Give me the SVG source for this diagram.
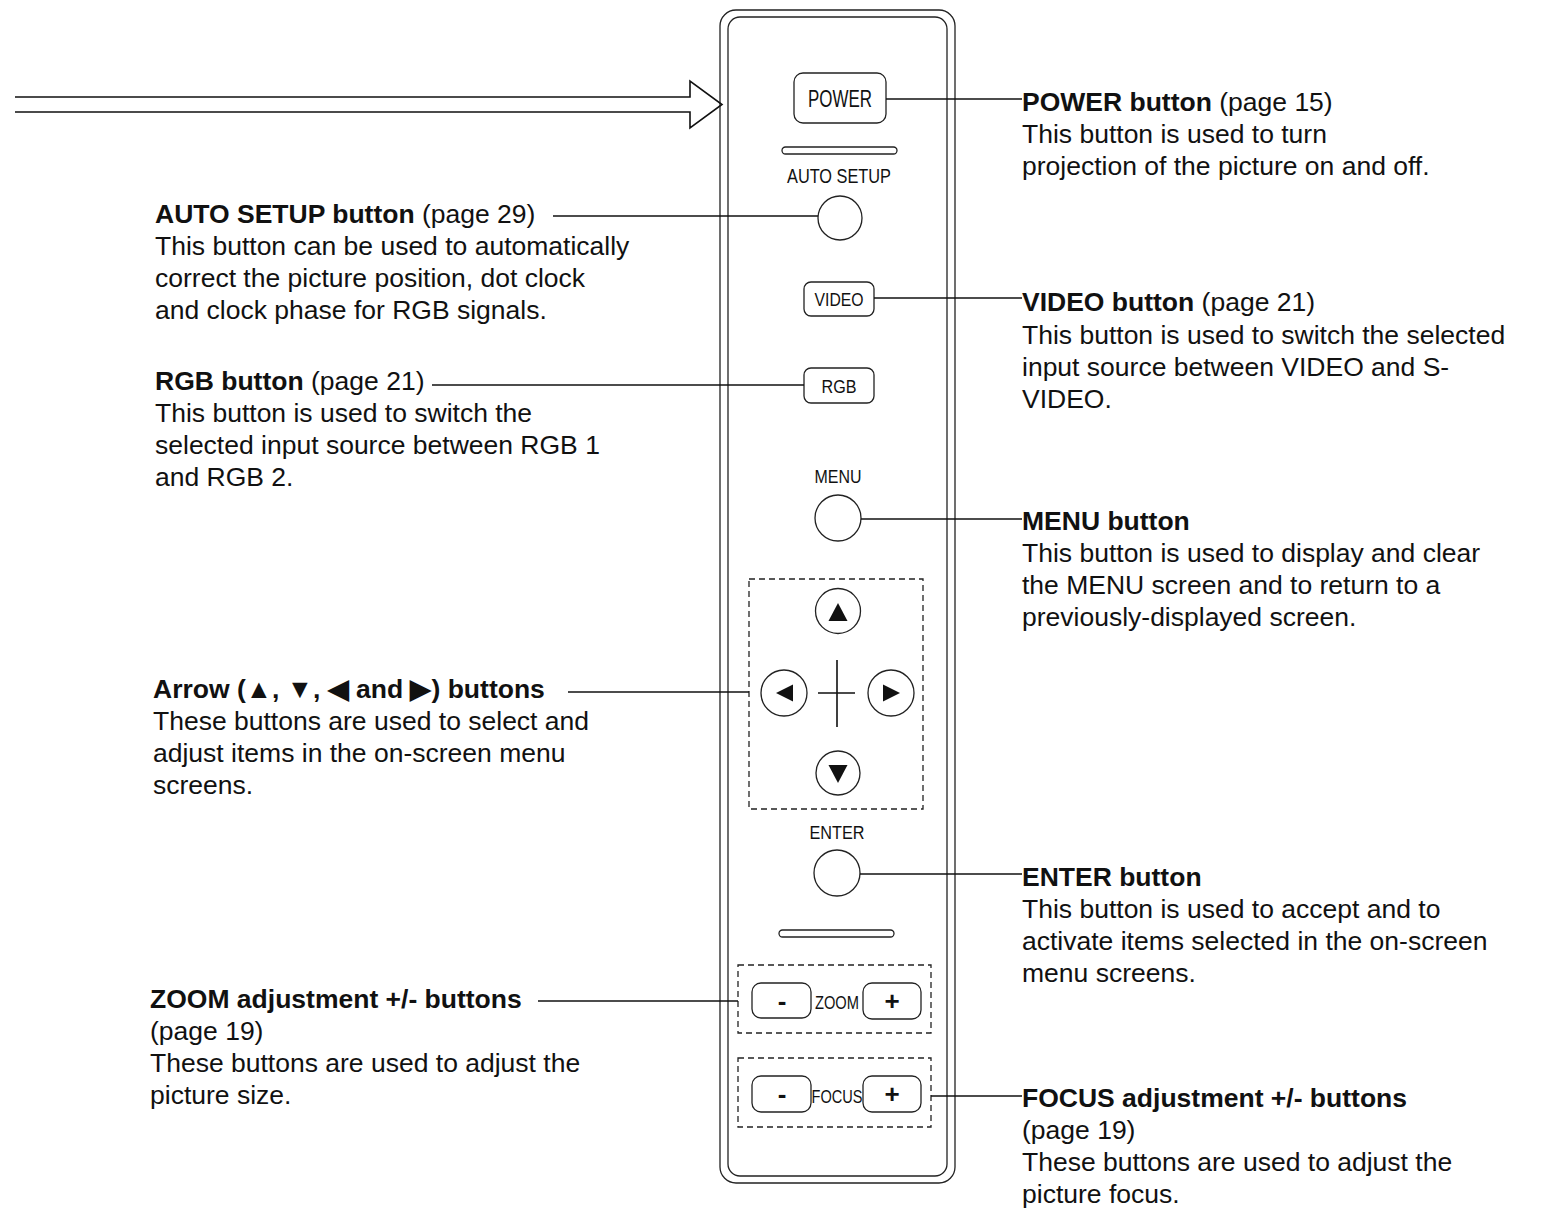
<svg xmlns="http://www.w3.org/2000/svg" width="1552" height="1209" viewBox="0 0 1552 1209">
<style>
.ln{stroke:#111;stroke-width:1.6;fill:none}
.bt{stroke:#222;stroke-width:1.3;fill:#fff}
.ds{stroke:#222;stroke-width:1.3;fill:none;stroke-dasharray:6 4}
.t{font-family:"Liberation Sans",Arial,sans-serif;font-size:26.5px;fill:#111}
.b{font-weight:bold}
.p{font-family:"Liberation Sans",Arial,sans-serif;fill:#111;text-anchor:middle}
.tri{fill:#111}
</style>
<rect width="1552" height="1209" fill="#fff"/>
<g id="panel">
<rect x="720" y="10" width="235" height="1173" rx="16" class="bt" stroke-width="1.6"/>
<rect x="728" y="17" width="219" height="1159" rx="12" class="bt"/>
</g>
<g id="bigarrow">
<path d="M15,97 H690 V81 L722,104.5 L690,128 V112 H15" class="ln" stroke-width="2"/>
</g>
<g id="power">
<rect x="794" y="73" width="92" height="50" rx="9" class="bt"/>
<text x="840" y="107" class="p" font-size="23" textLength="64" lengthAdjust="spacingAndGlyphs">POWER</text>
</g>
<g id="slot1"><rect x="782" y="147" width="115" height="7" rx="3.5" class="bt"/></g>
<g id="autosetup">
<text x="839" y="183" class="p" font-size="20" textLength="104" lengthAdjust="spacingAndGlyphs">AUTO SETUP</text>
<circle cx="840" cy="218" r="22" class="bt"/>
</g>
<g id="video">
<rect x="804" y="282" width="70" height="34" rx="7" class="bt"/>
<text x="839" y="306" class="p" font-size="19" textLength="49" lengthAdjust="spacingAndGlyphs">VIDEO</text>
</g>
<g id="rgb">
<rect x="804" y="368" width="70" height="35" rx="7" class="bt"/>
<text x="839" y="393" class="p" font-size="19" textLength="35" lengthAdjust="spacingAndGlyphs">RGB</text>
</g>
<g id="menu">
<text x="838" y="483" class="p" font-size="19" textLength="47" lengthAdjust="spacingAndGlyphs">MENU</text>
<circle cx="838" cy="518" r="23" class="bt"/>
</g>
<g id="arrows">
<rect x="749" y="579" width="174" height="230" class="ds"/>
<circle cx="838" cy="611" r="22.5" class="bt"/>
<path d="M838,603 L847.5,621 L828.5,621 Z" class="tri"/>
<circle cx="784" cy="693" r="23" class="bt"/>
<path d="M776,693 L793,684.5 L793,701.5 Z" class="tri"/>
<circle cx="891" cy="693" r="23" class="bt"/>
<path d="M900,693 L883,684.5 L883,701.5 Z" class="tri"/>
<circle cx="838" cy="773" r="22" class="bt"/>
<path d="M838,783 L847.5,765 L828.5,765 Z" class="tri"/>
<path d="M818,693 H855 M837,660 V727" class="ln" stroke-width="1.3"/>
</g>
<g id="enter">
<text x="837" y="839" class="p" font-size="18" textLength="55" lengthAdjust="spacingAndGlyphs">ENTER</text>
<circle cx="837" cy="873" r="23" class="bt"/>
</g>
<g id="slot2"><rect x="779" y="930" width="115" height="7" rx="3.5" class="bt"/></g>
<g id="zoom">
<rect x="738" y="965" width="193" height="68" class="ds"/>
<rect x="752" y="983" width="59" height="35" rx="9" class="bt"/>
<text x="782" y="1010" class="p b" font-size="26">-</text>
<text x="837" y="1009" class="p" font-size="19" textLength="44" lengthAdjust="spacingAndGlyphs">ZOOM</text>
<rect x="863" y="983" width="58" height="36" rx="9" class="bt"/>
<text x="892" y="1010" class="p b" font-size="26">+</text>
</g>
<g id="focus">
<rect x="738" y="1058" width="193" height="69" class="ds"/>
<rect x="752" y="1076" width="59" height="36" rx="9" class="bt"/>
<text x="782" y="1103" class="p b" font-size="26">-</text>
<text x="837" y="1103" class="p" font-size="19" textLength="51" lengthAdjust="spacingAndGlyphs">FOCUS</text>
<rect x="863" y="1076" width="58" height="36" rx="9" class="bt"/>
<text x="892" y="1103" class="p b" font-size="26">+</text>
</g>
<g id="connectors">
<line x1="886" y1="99" x2="1022" y2="99" class="ln"/>
<line x1="553" y1="216" x2="818" y2="216" class="ln"/>
<line x1="874" y1="298" x2="1022" y2="298" class="ln"/>
<line x1="432" y1="385" x2="804" y2="385" class="ln"/>
<line x1="861" y1="519" x2="1022" y2="519" class="ln"/>
<line x1="568" y1="692" x2="749" y2="692" class="ln"/>
<line x1="860" y1="874" x2="1022" y2="874" class="ln"/>
<line x1="538" y1="1001" x2="738" y2="1001" class="ln"/>
<line x1="931" y1="1096" x2="1022" y2="1096" class="ln"/>
</g>
<g id="label-power">
<text x="1022" y="111" class="t"><tspan class="b">POWER button</tspan> (page 15)</text>
<text x="1022" y="143" class="t">This button is used to turn</text>
<text x="1022" y="175" class="t">projection of the picture on and off.</text>
</g>
<g id="label-autosetup">
<text x="155" y="223" class="t"><tspan class="b">AUTO SETUP button</tspan> (page 29)</text>
<text x="155" y="255" class="t">This button can be used to automatically</text>
<text x="155" y="287" class="t">correct the picture position, dot clock</text>
<text x="155" y="319" class="t">and clock phase for RGB signals.</text>
</g>
<g id="label-video">
<text x="1022" y="311" class="t"><tspan class="b">VIDEO button</tspan> (page 21)</text>
<text x="1022" y="344" class="t">This button is used to switch the selected</text>
<text x="1022" y="376" class="t">input source between VIDEO and S-</text>
<text x="1022" y="408" class="t">VIDEO.</text>
</g>
<g id="label-rgb">
<text x="155" y="390" class="t"><tspan class="b">RGB button</tspan> (page 21)</text>
<text x="155" y="422" class="t">This button is used to switch the</text>
<text x="155" y="454" class="t">selected input source between RGB 1</text>
<text x="155" y="486" class="t">and RGB 2.</text>
</g>
<g id="label-menu">
<text x="1022" y="530" class="t b">MENU button</text>
<text x="1022" y="562" class="t">This button is used to display and clear</text>
<text x="1022" y="594" class="t">the MENU screen and to return to a</text>
<text x="1022" y="626" class="t">previously-displayed screen.</text>
</g>
<g id="label-arrows">
<text x="153" y="698" class="t b">Arrow (▲, ▼, ◀ and ▶) buttons</text>
<text x="153" y="730" class="t">These buttons are used to select and</text>
<text x="153" y="762" class="t">adjust items in the on-screen menu</text>
<text x="153" y="794" class="t">screens.</text>
</g>
<g id="label-enter">
<text x="1022" y="886" class="t b">ENTER button</text>
<text x="1022" y="918" class="t">This button is used to accept and to</text>
<text x="1022" y="950" class="t">activate items selected in the on-screen</text>
<text x="1022" y="982" class="t">menu screens.</text>
</g>
<g id="label-zoom">
<text x="150" y="1008" class="t b">ZOOM adjustment +/- buttons</text>
<text x="150" y="1040" class="t">(page 19)</text>
<text x="150" y="1072" class="t">These buttons are used to adjust the</text>
<text x="150" y="1104" class="t">picture size.</text>
</g>
<g id="label-focus">
<text x="1022" y="1107" class="t b">FOCUS adjustment +/- buttons</text>
<text x="1022" y="1139" class="t">(page 19)</text>
<text x="1022" y="1171" class="t">These buttons are used to adjust the</text>
<text x="1022" y="1203" class="t">picture focus.</text>
</g>
</svg>
